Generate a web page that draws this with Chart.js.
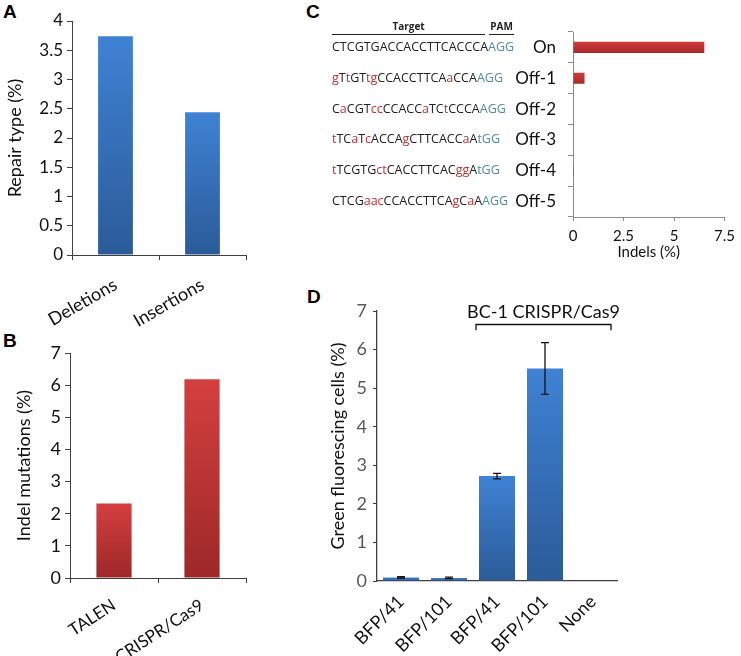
<!DOCTYPE html>
<html>
<head>
<meta charset="utf-8">
<script src="https://cdn.jsdelivr.net/npm/chart.js@4"></script>
<style>
  body { margin: 0; background: #fff; width: 741px; height: 656px; position: relative; overflow: hidden; }
  .panel { position: absolute; }
  .tag { position: absolute; font: bold 19px "Liberation Sans", Arial, sans-serif; color: #000; }
</style>
</head>
<body>
<div class="tag" style="left:3px;top:1px">A</div>
<div class="tag" style="left:3px;top:330px">B</div>
<div class="tag" style="left:306px;top:1px">C</div>
<div class="tag" style="left:307px;top:286px">D</div>

<div class="panel" style="left:0;top:0"><canvas id="chartA" width="250" height="330"></canvas></div>
<div class="panel" style="left:0;top:325px"><canvas id="chartB" width="250" height="331"></canvas></div>
<div class="panel" style="left:300px;top:0"><canvas id="chartC" width="441" height="270"></canvas></div>
<div class="panel" style="left:300px;top:280px"><canvas id="chartD" width="441" height="376"></canvas></div>

<script>
// ================= DATA =================
const repairLabels = ["Deletions", "Insertions"];
const repairValues = [3.74, 2.44];
const repairTicks = [0, 0.5, 1, 1.5, 2, 2.5, 3, 3.5, 4];

const toolLabels = ["TALEN", "CRISPR/Cas9"];
const toolValues = [2.32, 6.18];

const siteLabels = ["On", "Off-1", "Off-2", "Off-3", "Off-4", "Off-5"];
const siteSeqs = [
  "CTCGTGACCACCTTCACCCAAGG",
  "gTtGTtgCCACCTTCAaCCAAGG",
  "CaCGTccCCACCaTCtCCCAAGG",
  "tTCaTcACCAgCTTCACCaAtGG",
  "tTCGTGctCACCTTCACggAtGG",
  "CTCGaacCCACCTTCAgCaAAGG"
];
const indelValues = [6.5, 0.57, 0, 0, 0.05, 0];
const indelTicks = [0, 2.5, 5, 7.5];

const reporterLabels = ["BFP/41", "BFP/101", "BFP/41", "BFP/101", "None"];
const greenValues = [0.09, 0.08, 2.72, 5.51, 0.01];
const greenErrors = [0.02, 0.02, 0.07, 0.67, 0];
const bracketText = "BC-1 CRISPR/Cas9";

// ================= STYLE HELPERS =================
const FONT = "Lato, 'Open Sans', sans-serif";
const SEQ_FONT = "'Open Sans', sans-serif";
const BLUE = ["#3f82d4", "#2b5b98"];
const RED = ["#d43f3f", "#9d2828"];

function barGradient(colors) {
  return (c) => {
    const chart = c.chart;
    const { ctx, chartArea, scales } = chart;
    if (!chartArea || c.raw === undefined) return colors[0];
    const top = scales.y.getPixelForValue(c.raw);
    const bottom = scales.y.getPixelForValue(0);
    if (bottom - top < 1) return colors[1];
    const g = ctx.createLinearGradient(0, top, 0, bottom);
    g.addColorStop(0, colors[0]);
    g.addColorStop(1, colors[1]);
    return g;
  };
}

function fixW(w) { return (s) => { s.width = w; }; }
function fixH(h) { return (s) => { s.height = h; }; }

const base = {
  responsive: false,
  animation: false,
  events: [],
  plugins: { legend: { display: false }, tooltip: { enabled: false } }
};

// ================= PANEL A =================
new Chart(document.getElementById("chartA"), {
  type: "bar",
  data: {
    labels: repairLabels,
    datasets: [{ data: repairValues, backgroundColor: barGradient(BLUE), categoryPercentage: 1, barPercentage: 0.4 }]
  },
  options: {
    ...base,
    layout: { padding: { top: 21, right: 4, left: 0, bottom: 0 } },
    scales: {
      x: {
        afterFit: fixH(75),
        grid: { drawOnChartArea: false, tickLength: 5, color: "#404040" },
        border: { color: "#404040", width: 1 },
        ticks: { color: "#111", font: { family: FONT, size: 18 }, minRotation: 30, maxRotation: 30, padding: 14 }
      },
      y: {
        min: 0, max: 4,
        afterFit: fixW(72),
        afterBuildTicks: (s) => { s.ticks = repairTicks.map(v => ({ value: v })); },
        grid: { drawOnChartArea: false, tickLength: 5, color: "#404040" },
        border: { color: "#404040", width: 1 },
        ticks: { color: "#111", font: { family: FONT, size: 17 }, padding: 4, callback: (v) => String(v) },
        title: { display: true, text: "Repair type (%)", color: "#111", font: { family: FONT, size: 18 }, padding: { top: 4, bottom: 0 } }
      }
    }
  }
});

// ================= PANEL B =================
new Chart(document.getElementById("chartB"), {
  type: "bar",
  data: {
    labels: toolLabels,
    datasets: [{ data: toolValues, backgroundColor: barGradient(RED), categoryPercentage: 1, barPercentage: 0.4 }]
  },
  options: {
    ...base,
    layout: { padding: { top: 28, right: 4, left: 0, bottom: 0 } },
    scales: {
      x: {
        afterFit: fixH(78),
        grid: { drawOnChartArea: false, tickLength: 5, color: "#404040" },
        border: { color: "#404040", width: 1 },
        ticks: { color: "#111", font: { family: FONT, size: 17 }, minRotation: 33, maxRotation: 33, padding: 12 }
      },
      y: {
        min: 0, max: 7,
        afterFit: fixW(70),
        ticks: { stepSize: 1, color: "#111", font: { family: FONT, size: 18 }, padding: 4 },
        grid: { drawOnChartArea: false, tickLength: 5, color: "#404040" },
        border: { color: "#404040", width: 1 },
        title: { display: true, text: "Indel mutations (%)", color: "#111", font: { family: FONT, size: 18 }, padding: { top: 13, bottom: 0 } }
      }
    }
  }
});

// ================= PANEL C =================
const seqPlugin = {
  id: "seqs",
  afterDraw(chart) {
    const { ctx, scales: { y } } = chart;
    const x0 = 32;
    ctx.save();
    ctx.font = "12.5px " + SEQ_FONT;
    ctx.textBaseline = "middle";
    ctx.textAlign = "left";
    let seqWidth = 0;
    siteSeqs.forEach((s, i) => {
      const py = y.getPixelForValue(i);
      let x = x0;
      for (let k = 0; k < s.length; k++) {
        const ch = s[k];
        if (k >= s.length - 3) ctx.fillStyle = "#4f8da0";
        else if (ch !== ch.toUpperCase()) ctx.fillStyle = "#d42a2a";
        else ctx.fillStyle = "#222";
        ctx.fillText(ch, x, py);
        x += ctx.measureText(ch).width;
      }
      seqWidth = Math.max(seqWidth, x - x0);
    });
    // header: Target / PAM
    const pamW = ctx.measureText("AGG").width;
    const targetEnd = x0 + seqWidth - pamW - 3;
    ctx.strokeStyle = "#222";
    ctx.lineWidth = 1;
    ctx.beginPath();
    ctx.moveTo(x0, 34.5); ctx.lineTo(targetEnd, 34.5);
    ctx.moveTo(targetEnd + 4, 34.5); ctx.lineTo(x0 + seqWidth, 34.5);
    ctx.stroke();
    ctx.fillStyle = "#222";
    ctx.font = "bold 10px " + SEQ_FONT;
    ctx.textAlign = "center";
    ctx.textBaseline = "alphabetic";
    ctx.fillText("Target", (x0 + targetEnd) / 2, 30);
    ctx.fillText("PAM", (targetEnd + 4 + x0 + seqWidth) / 2, 30);
    ctx.restore();
  }
};

new Chart(document.getElementById("chartC"), {
  type: "bar",
  data: {
    labels: siteLabels,
    datasets: [{
      data: indelValues,
      backgroundColor: (c) => {
        const { ctx, chartArea, scales } = c.chart;
        if (!chartArea) return RED[0];
        const py = scales.y.getPixelForValue(c.dataIndex);
        const g = ctx.createLinearGradient(0, py - 6, 0, py + 6);
        g.addColorStop(0, "#d13a3a");
        g.addColorStop(1, "#a52a2a");
        return g;
      },
      categoryPercentage: 1,
      barPercentage: 0.36
    }]
  },
  options: {
    ...base,
    indexAxis: "y",
    layout: { padding: { top: 32, right: 11, left: 0, bottom: 0 } },
    scales: {
      x: {
        min: 0, max: 7.5,
        afterFit: fixH(53),
        afterBuildTicks: (s) => { s.ticks = indelTicks.map(v => ({ value: v })); },
        grid: { drawOnChartArea: false, tickLength: 4, color: "#8c8c8c" },
        border: { color: "#8c8c8c", width: 1 },
        ticks: { color: "#111", font: { family: FONT, size: 15 }, padding: 6, maxRotation: 0 },
        title: { display: true, text: "Indels (%)", color: "#111", font: { family: FONT, size: 15 }, padding: { top: 0, bottom: 9 } }
      },
      y: {
        afterFit: fixW(273),
        grid: { drawOnChartArea: false, tickLength: 5, color: "#8c8c8c" },
        border: { color: "#8c8c8c", width: 1 },
        ticks: { color: "#111", font: { family: FONT, size: 17 }, padding: 12 }
      }
    }
  },
  plugins: [seqPlugin]
});

// ================= PANEL D =================
const errorPlugin = {
  id: "errorBars",
  afterDatasetsDraw(chart) {
    const { ctx, scales: { x, y } } = chart;
    ctx.save();
    ctx.strokeStyle = "#111";
    ctx.lineWidth = 1.3;
    greenValues.forEach((v, i) => {
      const e = greenErrors[i];
      if (!e) return;
      const px = x.getPixelForValue(i);
      const yt = y.getPixelForValue(v + e);
      const yb = y.getPixelForValue(v - e);
      ctx.beginPath();
      ctx.moveTo(px, yt); ctx.lineTo(px, yb);
      ctx.moveTo(px - 4, yt); ctx.lineTo(px + 4, yt);
      ctx.moveTo(px - 4, yb); ctx.lineTo(px + 4, yb);
      ctx.stroke();
    });
    // bracket over the CRISPR/Cas9 group
    const meta = chart.getDatasetMeta(0);
    const b2 = meta.data[2], b4 = meta.data[4];
    const left = b2.x - b2.width / 2 - 3;
    const right = b4.x + b4.width / 2;
    const yl = Math.round(y.getPixelForValue(6.66)) + 0.5;
    const yd = y.getPixelForValue(6.5);
    ctx.lineWidth = 1.3;
    ctx.beginPath();
    ctx.moveTo(left, yd); ctx.lineTo(left, yl); ctx.lineTo(right, yl); ctx.lineTo(right, yd);
    ctx.stroke();
    ctx.fillStyle = "#111";
    ctx.font = "18px " + FONT;
    ctx.textAlign = "center";
    ctx.textBaseline = "middle";
    ctx.fillText(bracketText, (left + right) / 2, y.getPixelForValue(6.97));
    ctx.restore();
  }
};

new Chart(document.getElementById("chartD"), {
  type: "bar",
  data: {
    labels: reporterLabels,
    datasets: [{ data: greenValues, backgroundColor: barGradient(BLUE), categoryPercentage: 1, barPercentage: 0.75 }]
  },
  options: {
    ...base,
    layout: { padding: { top: 31, right: 124, left: 0, bottom: 0 } },
    scales: {
      x: {
        afterFit: fixH(75),
        grid: { drawOnChartArea: false, drawTicks: false, color: "#404040" },
        border: { color: "#404040", width: 1.3 },
        ticks: { color: "#111", font: { family: FONT, size: 18 }, minRotation: 45, maxRotation: 45, padding: 10, autoSkip: false }
      },
      y: {
        min: 0, max: 7,
        afterFit: fixW(77),
        ticks: { stepSize: 1, color: "#595959", font: { family: FONT, size: 18 }, padding: 6 },
        grid: { drawOnChartArea: false, tickLength: 4, color: "#404040" },
        border: { color: "#404040", width: 1.3 },
        title: { display: true, text: "Green fluorescing cells (%)", color: "#111", font: { family: FONT, size: 18 }, padding: { top: 27, bottom: 0 } }
      }
    }
  },
  plugins: [errorPlugin]
});
</script>
</body>
</html>
